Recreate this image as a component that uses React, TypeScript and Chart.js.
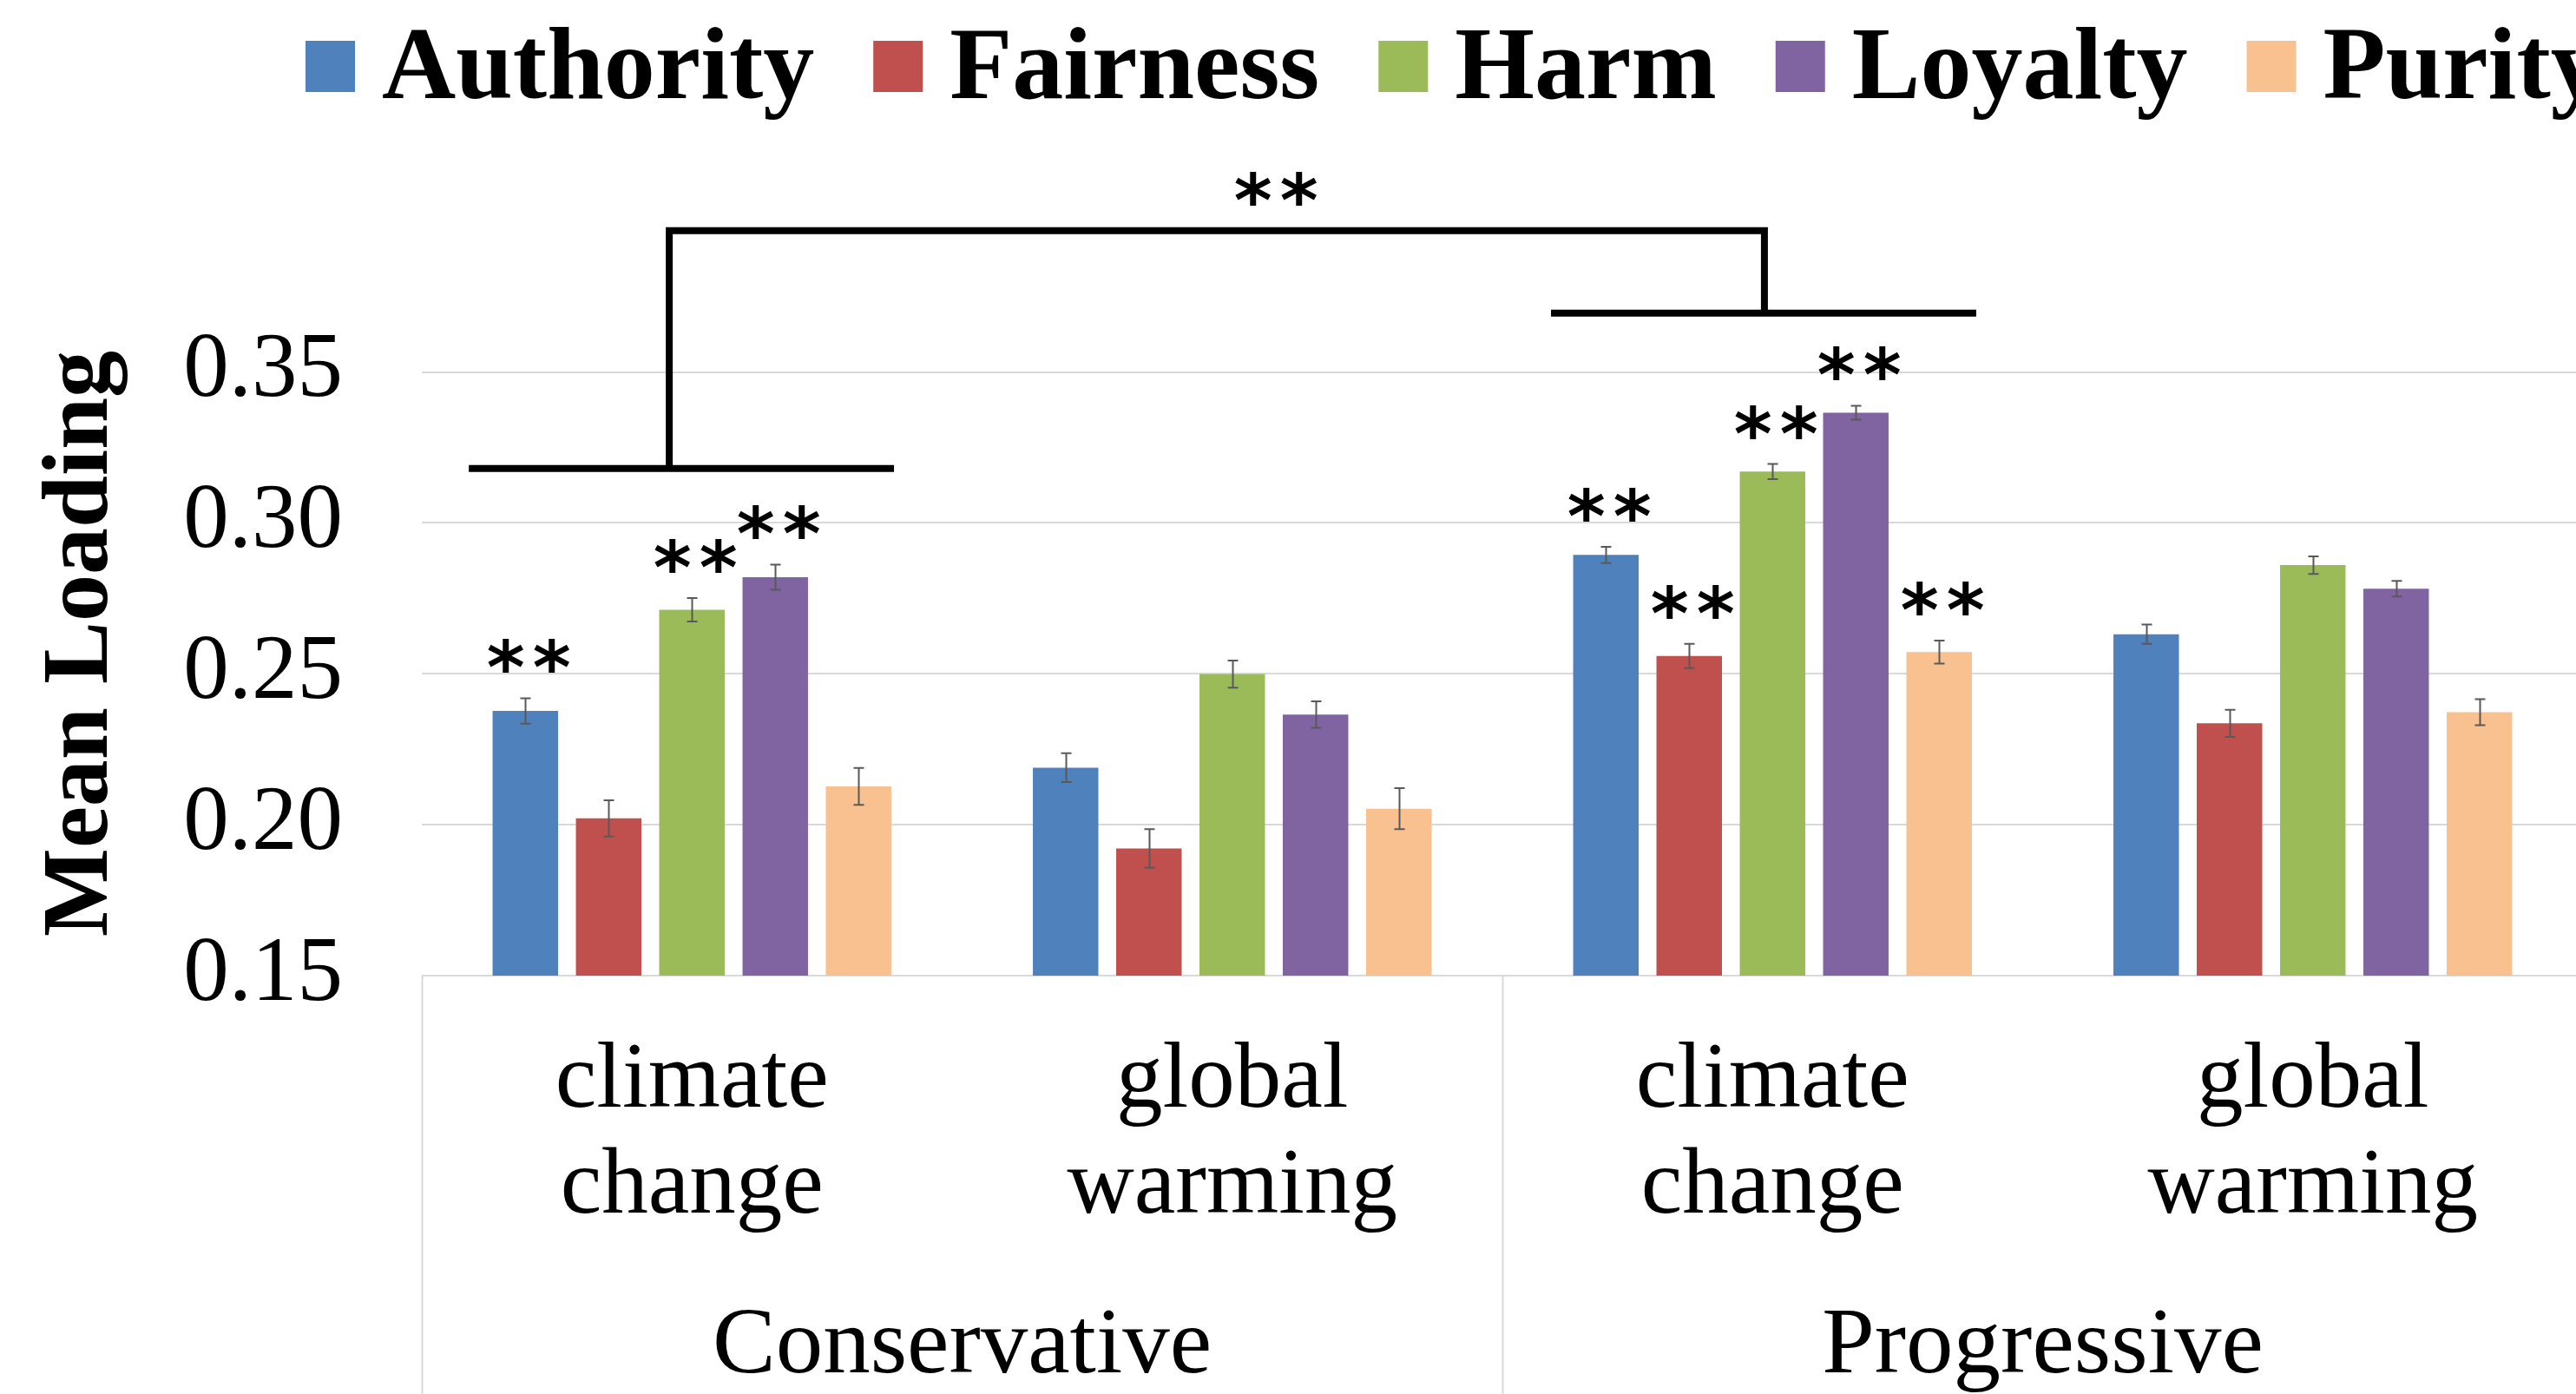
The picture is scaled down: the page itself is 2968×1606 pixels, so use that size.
import React, { useEffect, useRef } from 'react';
import { Chart, registerables } from 'chart.js';

Chart.register(...registerables);

// ---- data ----
const categories: string[][] = [
  ['climate', 'change'],
  ['global', 'warming'],
  ['climate', 'change'],
  ['global', 'warming'],
];
const groups = ['Conservative', 'Progressive'];
const seriesNames = ['Authority', 'Fairness', 'Harm', 'Loyalty', 'Purity'];
const seriesColors = ['#4F81BD', '#C0504D', '#9BBB59', '#8064A2', '#F9C090'];

const authority = [0.2377, 0.2189, 0.2894, 0.2631];
const fairness = [0.2021, 0.1921, 0.2559, 0.2336];
const harm = [0.2712, 0.2499, 0.317, 0.286];
const loyalty = [0.282, 0.2365, 0.3365, 0.2782];
const purity = [0.2127, 0.2053, 0.2572, 0.2373];

const authorityErr = [0.0042, 0.0048, 0.0027, 0.0032];
const fairnessErr = [0.006, 0.0064, 0.004, 0.0045];
const harmErr = [0.0039, 0.0045, 0.0025, 0.0029];
const loyaltyErr = [0.0042, 0.0044, 0.0023, 0.0026];
const purityErr = [0.0061, 0.0068, 0.0038, 0.0043];

const authoritySig = [true, false, true, false];
const fairnessSig = [false, false, true, false];
const harmSig = [true, false, true, false];
const loyaltySig = [true, false, true, false];
const puritySig = [false, false, true, false];

const yTicks = [0.15, 0.2, 0.25, 0.3, 0.35];

// bracket levels (data units) for the group comparison annotation
const conservativeBracketLevel = 0.318;
const progressiveBracketLevel = 0.3695;
const topBracketLevel = 0.3968;

const allValues = [authority, fairness, harm, loyalty, purity];
const allErrors = [authorityErr, fairnessErr, harmErr, loyaltyErr, purityErr];
const allSig = [authoritySig, fairnessSig, harmSig, loyaltySig, puritySig];

const SERIF = '"Liberation Serif", "Times New Roman", serif';
const STAR_FONT = 'bold 84px "DejaVu Sans"';

function drawStars(ctx: any, cx: number, glyphBottom: number) {
  ctx.save();
  ctx.font = STAR_FONT;
  ctx.fillStyle = '#000';
  ctx.textAlign = 'left';
  ctx.textBaseline = 'alphabetic';
  const m = ctx.measureText('*');
  const pitch = 53;
  const gw = m.actualBoundingBoxLeft + m.actualBoundingBoxRight;
  const total = pitch + gw;
  const left = cx - total / 2;
  const base = glyphBottom - m.actualBoundingBoxDescent;
  ctx.fillText('*', left + m.actualBoundingBoxLeft, base);
  ctx.fillText('*', left + pitch + m.actualBoundingBoxLeft, base);
  ctx.restore();
}

const annotPlugin = {
  id: 'annotations',
  afterDatasetsDraw(chart: any) {
    const { ctx } = chart;
    const y = chart.scales.y;
    ctx.save();
    chart.data.datasets.forEach((ds: any, di: number) => {
      const meta = chart.getDatasetMeta(di);
      meta.data.forEach((bar: any, i: number) => {
        const v = ds.data[i];
        const e = ds.errors[i];
        const yt = y.getPixelForValue(v + e);
        const yb = y.getPixelForValue(v - e);
        const cx = Math.round(bar.x) + 0.5;
        ctx.strokeStyle = '#595959';
        ctx.lineWidth = 2;
        ctx.beginPath();
        ctx.moveTo(cx, yt);
        ctx.lineTo(cx, yb);
        ctx.moveTo(cx - 6, yt);
        ctx.lineTo(cx + 6, yt);
        ctx.moveTo(cx - 6, yb);
        ctx.lineTo(cx + 6, yb);
        ctx.stroke();
        if (ds.sig[i]) {
          drawStars(ctx, bar.x + 4, yt - 29);
        }
      });
    });
    ctx.restore();
  },
  afterDraw(chart: any) {
    const { ctx, chartArea } = chart;
    const x = chart.scales.x;
    const y = chart.scales.y;
    const catW = x.getPixelForValue(1) - x.getPixelForValue(0);
    ctx.save();

    // category box dividers under the axis
    ctx.strokeStyle = '#d9d9d9';
    ctx.lineWidth = 2;
    const divs = [
      chartArea.left,
      (x.getPixelForValue(1) + x.getPixelForValue(2)) / 2,
      chartArea.right,
    ];
    ctx.beginPath();
    divs.forEach((d) => {
      ctx.moveTo(Math.round(d) + 0.5, chartArea.bottom);
      ctx.lineTo(Math.round(d) + 0.5, chart.height);
    });
    ctx.stroke();

    // brackets
    ctx.strokeStyle = '#000';
    ctx.lineWidth = 8;
    ctx.lineCap = 'butt';
    const c0 = x.getPixelForValue(0);
    const c2 = x.getPixelForValue(2);
    const yL = y.getPixelForValue(conservativeBracketLevel);
    const yR = y.getPixelForValue(progressiveBracketLevel);
    const yT = y.getPixelForValue(topBracketLevel);
    const vL = c0 - 0.042 * catW;
    const vR = c2 - 0.015 * catW;
    ctx.beginPath();
    ctx.moveTo(c0 - 0.413 * catW, yL);
    ctx.lineTo(c0 + 0.374 * catW, yL);
    ctx.moveTo(c2 - 0.41 * catW, yR);
    ctx.lineTo(c2 + 0.377 * catW, yR);
    ctx.moveTo(vL, yL);
    ctx.lineTo(vL, yT - 4);
    ctx.moveTo(vR, yR);
    ctx.lineTo(vR, yT - 4);
    ctx.moveTo(vL - 4, yT);
    ctx.lineTo(vR + 4, yT);
    ctx.stroke();

    // top significance stars
    const topX = x.getPixelForValue(1) + 0.081 * catW;
    drawStars(ctx, topX, yT - 29);

    // legend
    ctx.font = 'bold 118px ' + SERIF;
    ctx.textAlign = 'left';
    ctx.textBaseline = 'alphabetic';
    let lx = 352;
    chart.data.datasets.forEach((ds: any) => {
      ctx.fillStyle = ds.backgroundColor;
      ctx.fillRect(lx, 47, 57, 59);
      ctx.fillStyle = '#000';
      const tx = lx + 88;
      ctx.fillText(ds.label, tx, 113);
      lx = tx + ctx.measureText(ds.label).width + 68;
    });

    ctx.restore();
  },
};

export default function App() {
  const ref = useRef<HTMLCanvasElement | null>(null);

  useEffect(() => {
    if (!ref.current) return;
    const datasets = seriesNames.map((name, i) => ({
      label: name,
      data: allValues[i],
      errors: allErrors[i],
      sig: allSig[i],
      backgroundColor: seriesColors[i],
      borderWidth: 0,
      categoryPercentage: 0.771,
      barPercentage: 0.786,
    }));
    const chart = new Chart(ref.current, {
      type: 'bar',
      data: { labels: categories as any, datasets: datasets as any },
      options: {
        responsive: false,
        maintainAspectRatio: false,
        devicePixelRatio: 1,
        animation: false,
        layout: { padding: { top: 359, right: 14, left: 0, bottom: 0 } },
        plugins: {
          legend: { display: false },
          tooltip: { enabled: false },
        },
        scales: {
          y: {
            min: 0.15,
            max: 0.37,
            afterBuildTicks: (axis: any) => {
              axis.ticks = yTicks.map((v) => ({ value: v }));
            },
            afterFit: (scale: any) => {
              scale.width = 486;
            },
            grid: { color: '#d9d9d9', lineWidth: 2, drawTicks: false },
            border: { display: false },
            ticks: {
              padding: 91,
              color: '#000',
              font: { family: SERIF, size: 105 },
              callback: (v: any) => Number(v).toFixed(2),
            },
            title: {
              display: true,
              text: 'Mean Loading',
              color: '#000',
              font: { family: SERIF, size: 108, weight: 'bold', lineHeight: 1.2 },
              padding: { top: 30, bottom: 0 },
            },
          },
          x: {
            weight: 0,
            grid: { display: false, drawTicks: false },
            border: { display: false },
            afterFit: (scale: any) => {
              scale.height = 326;
            },
            ticks: {
              padding: 62,
              maxRotation: 0,
              minRotation: 0,
              autoSkip: false,
              color: '#000',
              font: { family: SERIF, size: 107, lineHeight: 1.14 },
            },
          },
          x2: {
            type: 'category',
            labels: groups,
            position: 'bottom',
            offset: true,
            weight: 1,
            grid: { display: false, drawTicks: false },
            border: { display: false },
            afterFit: (scale: any) => {
              scale.height = 156;
            },
            ticks: {
              padding: 37,
              maxRotation: 0,
              minRotation: 0,
              autoSkip: false,
              color: '#000',
              font: { family: SERIF, size: 109, lineHeight: 1.2 },
            },
          },
        } as any,
      },
      plugins: [annotPlugin],
    });
    return () => chart.destroy();
  }, []);

  return (
    <div
      style={{
        position: 'fixed',
        left: 0,
        top: 0,
        width: 2968,
        height: 1606,
        overflow: 'hidden',
        background: '#fff',
      }}
    >
      <canvas
        ref={ref}
        width={2990}
        height={1606}
        style={{ display: 'block', width: 2990, height: 1606 }}
      />
    </div>
  );
}
